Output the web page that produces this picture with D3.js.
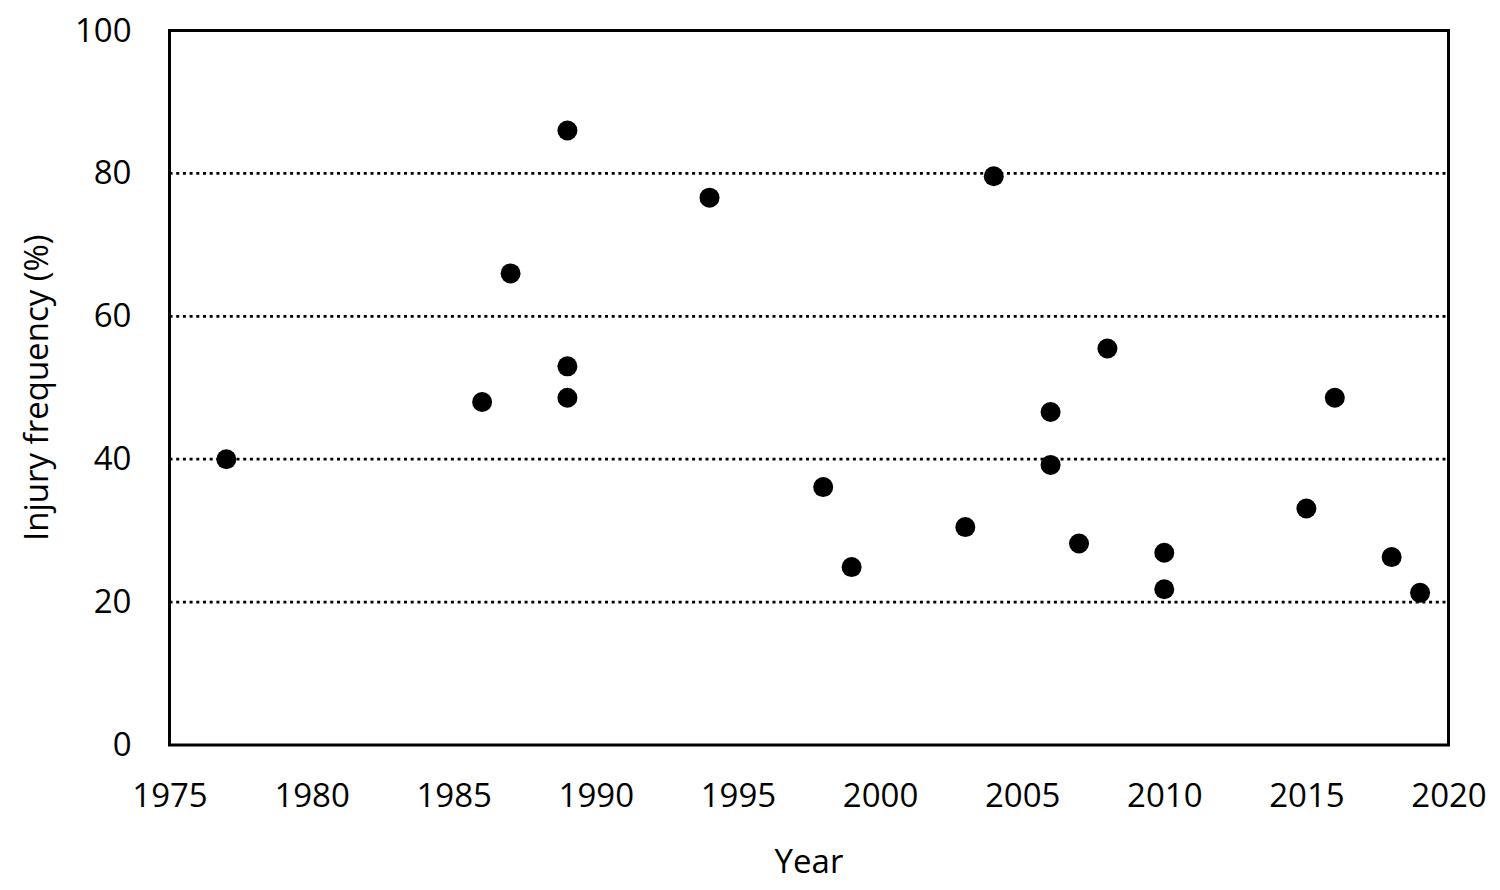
<!DOCTYPE html>
<html><head><meta charset="utf-8">
<script src="https://cdn.jsdelivr.net/npm/d3@7"></script>
<style>body{margin:0;background:#fff;} text{font-family:"Open Sans",sans-serif;}</style>
</head><body>
<svg id="c" width="1500" height="890"></svg>
<script>
const years = [1977,1986,1987,1989,1989,1989,1994,1998,1999,2003,2004,2006,2006,2007,2008,2010,2010,2015,2016,2018,2019];
const injury = [40,48,66,86,53,48.6,76.6,36.1,24.9,30.5,79.6,46.6,39.2,28.2,55.5,26.9,21.8,33.1,48.6,26.3,21.3];
const xTicks = [1975,1980,1985,1990,1995,2000,2005,2010,2015,2020];
const yTicks = [0,20,40,60,80,100];
const gridTicks = [20,40,60,80];

const svg = d3.select("#c");
const x = d3.scaleLinear().domain([1975,2020]).range([169.5,1448.5]);
const y = d3.scaleLinear().domain([0,100]).range([745,30.5]);

// gridlines
svg.append("g").selectAll("line").data(gridTicks).join("line")
  .attr("x1",x(1975)).attr("x2",x(2020))
  .attr("y1",d=>y(d)).attr("y2",d=>y(d))
  .attr("stroke","#000").attr("stroke-width",2.8).attr("stroke-dasharray","3,3.7");

// axes
const xAxis = svg.append("g").attr("transform",`translate(0,${y(0)})`)
  .call(d3.axisBottom(x).tickValues(xTicks).tickFormat(d3.format("d")).tickSize(0).tickPadding(39));
const yAxis = svg.append("g").attr("transform",`translate(${x(1975)},0)`)
  .call(d3.axisLeft(y).tickValues(yTicks).tickSize(0).tickPadding(38));
[xAxis,yAxis].forEach(g=>{
  g.select(".domain").remove();
  g.selectAll("text").attr("font-size",33).attr("fill","#000").style("font-family","'Open Sans',sans-serif");
});

// frame
svg.append("rect").attr("x",x(1975)).attr("y",y(100)).attr("width",x(2020)-x(1975)).attr("height",y(0)-y(100))
  .attr("fill","none").attr("stroke","#000").attr("stroke-width",3);

// points
svg.append("g").selectAll("circle").data(years.map((yr,i)=>[yr,injury[i]])).join("circle")
  .attr("cx",d=>x(d[0])).attr("cy",d=>y(d[1])).attr("r",10).attr("fill","#000");

svg.append("text").attr("x",(x(1975)+x(2020))/2).attr("y",873).attr("text-anchor","middle")
  .attr("font-size",33).text("Year");
svg.append("text").attr("transform",`translate(48,${(y(0)+y(100))/2}) rotate(-90)`).attr("text-anchor","middle")
  .attr("font-size",33).text("Injury frequency (%)");
</script>
</body></html>
